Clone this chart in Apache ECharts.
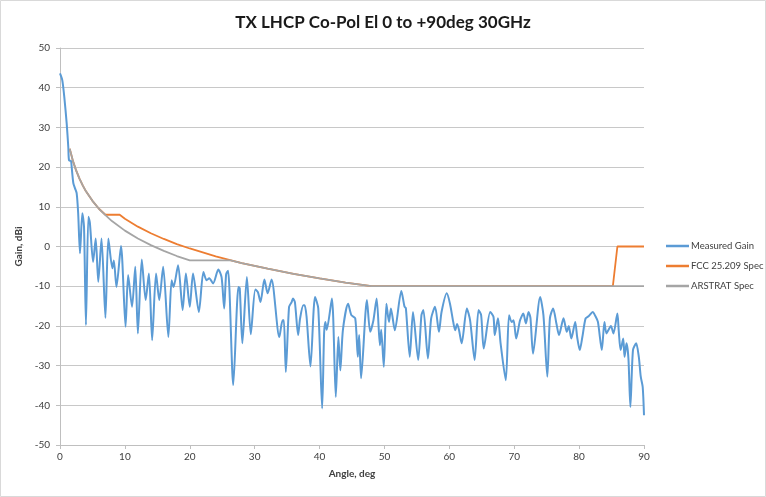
<!DOCTYPE html>
<html>
<head>
<meta charset="utf-8">
<script src="https://cdn.jsdelivr.net/npm/echarts@6/dist/echarts.min.js"></script>
<style>
html,body{margin:0;padding:0;background:#fff;}
#chart{width:766px;height:497px;}
</style>
</head>
<body>
<div id="chart"></div>
<script>
// ---- Data ----
const titleText = 'TX LHCP Co-Pol El 0 to +90deg 30GHz';
const xTicks = [0,10,20,30,40,50,60,70,80,90];
const yTicks = [-50,-40,-30,-20,-10,0,10,20,30,40,50];

const measuredAngle = [0,0.35,0.66,1.03,1.28,1.39,1.7,1.8,2.05,2.3,2.57,2.8,3.08,3.44,3.7,4.0,4.37,4.6,5.1,5.5,5.9,6.4,7.0,7.45,8.07,8.3,8.7,9.4,10.1,10.5,11.1,11.6,12.0,12.6,13.2,13.7,14.2,14.8,15.3,15.9,16.7,17.2,17.5,18.2,18.9,19.4,20.0,20.5,21.4,22.1,22.6,23.0,23.6,24.4,24.9,25.3,25.6,25.9,26.7,27.5,27.7,28.1,28.8,29.4,30.1,30.5,30.9,31.5,32.0,32.6,33.8,34.3,34.5,34.8,35.3,35.7,35.9,36.2,36.7,37.0,37.5,37.7,38.0,38.6,39.3,39.8,40.4,40.7,40.9,41.1,41.9,42.5,42.9,43.2,43.6,44.4,44.9,45.5,45.9,46.1,46.4,47.3,47.8,48.3,48.8,49.3,49.5,49.9,50.3,50.7,51.0,51.6,52.6,53.1,53.3,53.9,54.4,55.2,55.7,56.0,56.7,57.2,57.8,58.4,58.8,59.6,60.1,60.6,60.9,61.2,61.5,61.9,62.7,63.2,63.9,64.5,64.9,65.3,66.3,66.8,67.0,67.5,67.9,68.7,69.2,69.6,69.9,70.3,70.9,71.4,71.8,72.2,72.5,72.9,74.0,74.5,75.1,75.5,76.0,76.5,76.9,77.6,78.1,78.4,78.8,79.4,79.7,80.1,80.5,81.0,81.5,82.1,82.5,82.9,83.5,83.9,84.2,84.5,84.9,85.3,85.9,86.1,86.4,86.8,87.0,87.3,87.6,87.9,88.3,88.8,89.2,89.5,89.8,90.0];
const measuredGain = [43.6,41.9,37.7,31,25,21.7,21.5,20,16,14.7,13.4,8.4,-1.7,8.4,5,-19.8,7.5,6,-3.9,2,-8.9,2,-18,2,-5.5,-3.5,-10.2,0.1,-20.2,-7.2,-15.2,-5.1,-21.9,-3.3,-13.5,-6.8,-23.6,-6.8,-13.5,-5.1,-22.8,-8.5,-10.2,-4.7,-16,-6.8,-15.2,-6.8,-16.5,-6.4,-8.5,-8,-9.3,-5.8,-7.7,-15.6,-7,-6.1,-34.9,-10.2,-10.5,-24.4,-7.7,-22.1,-10.8,-11.5,-14,-8.3,-11.8,-8.3,-22.8,-18.6,-18.6,-31.6,-15.2,-14,-13.1,-14,-22.3,-18.1,-14.8,-14.8,-17.7,-30.2,-12.7,-15.6,-40.8,-21.9,-19,-21,-13.1,-37.9,-22.8,-31.2,-21,-14.4,-17.3,-18.1,-27.8,-22.3,-33.2,-13.5,-21.5,-18.6,-13.1,-24.9,-21,-30.3,-14.4,-19,-15.6,-21.1,-11.2,-15.2,-15.5,-27.8,-16.5,-28.6,-17.3,-16,-28.2,-18.1,-15.2,-21.5,-16.5,-11.8,-14.4,-19,-21.1,-19.5,-21.1,-24.4,-15.6,-18.6,-28.6,-16,-17.3,-25.7,-16.5,-17.7,-22.3,-18.1,-24.4,-33.7,-17.3,-19,-18.6,-23.2,-18.6,-16.9,-19.4,-16.5,-18,-27,-12.7,-17.3,-32.8,-18.1,-15.6,-19.4,-22.3,-18.1,-21.5,-20,-23.2,-19,-22.8,-26.1,-22.8,-18.1,-17.5,-16.5,-17.5,-19,-26.1,-19,-21.9,-21.1,-20,-21.9,-16.9,-21.1,-26.1,-23.2,-27.8,-24.4,-28.2,-40.4,-26.1,-24.4,-27.8,-32.8,-35.4,-42.5];

const fccAngle = [1.5,2,2.5,3,3.5,4,5,6,7,9.2,10,12,14,16,18,20,24,28,32,36,40,44,48,85.2,85.9,90];
const fccGain  = [24.6,21.5,19.1,17.1,15.4,13.9,11.5,9.5,8,8,7,5,3.35,1.9,0.6,-0.5,-2.5,-4.2,-5.6,-6.9,-8.05,-9.1,-10,-10,0,0];

const arstratAngle = [1.5,2,2.5,3,3.5,4,5,6,7,8,10,12,14,16,18,20,26.3,28,32,36,40,44,48,90];
const arstratGain  = [24.6,21.5,19.1,17.1,15.4,13.9,11.5,9.5,7.9,6.4,4,2,0.35,-1.1,-2.4,-3.5,-3.5,-4.2,-5.6,-6.9,-8.05,-9.1,-10,-10];

const seriesNames = ['Measured Gain','FCC 25.209 Spec','ARSTRAT Spec'];
const seriesColors = ['#5b9bd5','#ed7d31','#a5a5a5'];

const zip = (a,b) => a.map((v,i)=>[v,b[i]]);

const chart = echarts.init(document.getElementById('chart'), null, {renderer:'canvas'});
const font = 'Lato, "Open Sans", "Liberation Sans", sans-serif';
chart.setOption({
  animation:false,
  backgroundColor:'#fff',
  textStyle:{fontFamily:font},
  title:{
    text:titleText, left:'center', top:9,
    textStyle:{fontFamily:font, fontSize:17, fontWeight:'bold', color:'#1a1a1a'}
  },
  graphic:[{type:'rect', shape:{x:0.5,y:0.5,width:765,height:496}, style:{fill:'none', stroke:'#d9d9d9', lineWidth:1}, silent:true}],
  legend:{
    orient:'vertical', left:666, top:240, width:100, padding:0,
    itemWidth:23, itemHeight:2.5, itemGap:8, icon:'rect',
    textStyle:{fontFamily:font, fontSize:9.5, color:'#404040', lineHeight:12, overflow:'none', width:90, padding:[0,0,0,-3]},
    data:seriesNames
  },
  grid:{left:60, right:122, top:48, bottom:52, containLabel:false},
  xAxis:{
    type:'value', min:0, max:90, interval:10,
    name:'Angle, deg', nameLocation:'middle', nameGap:24,
    nameTextStyle:{fontFamily:font, fontSize:10, fontWeight:'bold', color:'#404040'},
    axisLine:{show:true, onZero:false, lineStyle:{color:'#bfbfbf'}},
    axisTick:{show:true, length:4, lineStyle:{color:'#bfbfbf'}},
    axisLabel:{fontFamily:font, fontSize:10, color:'#404040', margin:7},
    splitLine:{show:false}
  },
  yAxis:{
    type:'value', min:-50, max:50, interval:10,
    name:'Gain, dBi', nameLocation:'middle', nameGap:33, nameRotate:90,
    nameTextStyle:{fontFamily:font, fontSize:10, fontWeight:'bold', color:'#404040'},
    axisLine:{show:true, lineStyle:{color:'#bfbfbf'}},
    axisTick:{show:true, length:4, lineStyle:{color:'#bfbfbf'}},
    axisLabel:{fontFamily:font, fontSize:10, color:'#404040', margin:10},
    splitLine:{show:true, lineStyle:{color:'#c8c8c8', width:1}}
  },
  series:[
    {name:seriesNames[0], type:'line', data:zip(measuredAngle,measuredGain), showSymbol:false, smooth:0.25,
     lineStyle:{color:seriesColors[0], width:2}, itemStyle:{color:seriesColors[0]}, z:2},
    {name:seriesNames[1], type:'line', data:zip(fccAngle,fccGain), showSymbol:false,
     lineStyle:{color:seriesColors[1], width:1.8}, itemStyle:{color:seriesColors[1]}, z:3},
    {name:seriesNames[2], type:'line', data:zip(arstratAngle,arstratGain), showSymbol:false,
     lineStyle:{color:seriesColors[2], width:1.8}, itemStyle:{color:seriesColors[2]}, z:4}
  ]
});
</script>
</body>
</html>
